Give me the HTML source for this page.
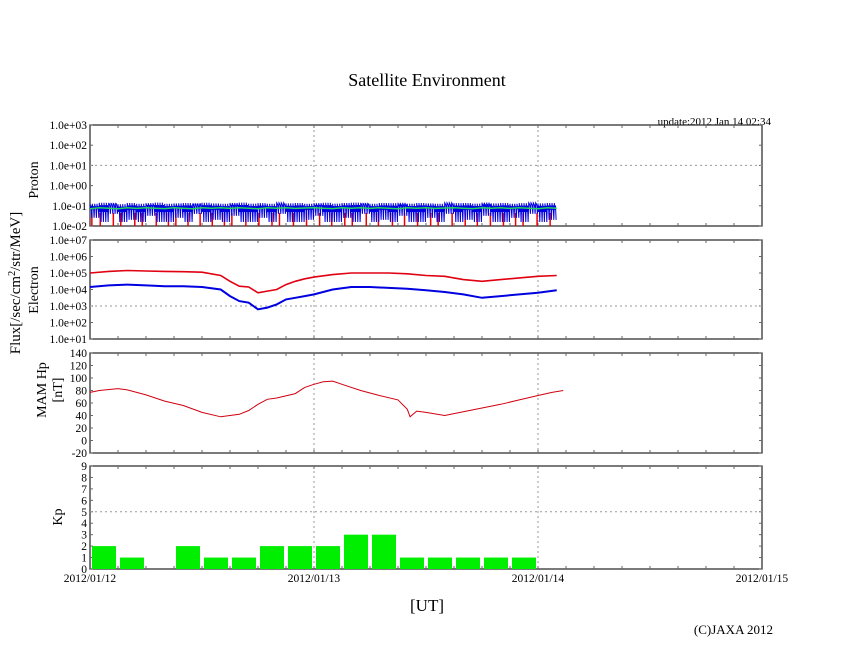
<!DOCTYPE html>
<html><head><meta charset="utf-8"><style>
body{margin:0;background:#fff;}
svg{display:block;font-family:"Liberation Serif",serif;}
</style></head><body>
<svg id="chart" width="846" height="655" viewBox="0 0 846 655" xmlns="http://www.w3.org/2000/svg">
<text x="427" y="86" font-size="18" text-anchor="middle">Satellite Environment</text>
<text x="771" y="125" font-size="11" text-anchor="end">update:2012 Jan 14 02:34</text>
<text x="427" y="611" font-size="17" text-anchor="middle">[UT]</text>
<text x="773" y="634" font-size="13" text-anchor="end">(C)JAXA 2012</text>
<text transform="translate(20,283) rotate(-90)" font-size="15" text-anchor="middle">Flux[/sec/cm<tspan dy="-5" font-size="10">2</tspan><tspan dy="5">/str/MeV]</tspan></text>
<text transform="translate(38,180) rotate(-90)" font-size="14" text-anchor="middle">Proton</text>
<text transform="translate(38,290) rotate(-90)" font-size="14" text-anchor="middle">Electron</text>
<text transform="translate(46,390) rotate(-90)" font-size="14" text-anchor="middle">MAM Hp</text>
<text transform="translate(62,390) rotate(-90)" font-size="14" text-anchor="middle">[nT]</text>
<text transform="translate(62,517) rotate(-90)" font-size="14" text-anchor="middle">Kp</text>
<g id="g"></g>
</svg>
<script>
const xDayLabels=["2012/01/12","2012/01/13","2012/01/14","2012/01/15"];
const protonTicks=["1.0e-02","1.0e-01","1.0e+00","1.0e+01","1.0e+02","1.0e+03"];
const electronTicks=["1.0e+01","1.0e+02","1.0e+03","1.0e+04","1.0e+05","1.0e+06","1.0e+07"];
const hpTicks=[-20,0,20,40,60,80,100,120,140];
const kpTicks=[0,1,2,3,4,5,6,7,8,9];
const protonHi=[-0.9,-0.85,-0.88,-0.92,-0.86,-0.9,-0.87,-0.84,-0.9,-0.88,-0.86,-0.91,-0.85,-0.88,-0.9,-0.86,-0.84,-0.89,-0.87,-0.9,-0.85,-0.88,-0.86,-0.9,-0.87,-0.85,-0.89,-0.86,-0.84,-0.88,-0.9,-0.86,-0.87,-0.85,-0.89,-0.86,-0.88,-0.9,-0.85,-0.87,-0.86,-0.89,-0.84,-0.88,-0.86,-0.9,-0.87,-0.85,-0.88,-0.86,-0.87];
const protonLo=[-1.8,-2,-1.6,-2,-1.9,-2,-1.7,-2,-2,-1.8,-2,-1.6,-2,-1.9,-2,-1.7,-2,-2,-1.8,-2,-1.6,-2,-2,-1.9,-1.7,-2,-2,-1.8,-2,-1.6,-2,-1.9,-2,-1.7,-2,-2,-1.8,-2,-1.6,-2,-1.9,-2,-1.7,-2,-2,-1.8,-2,-1.6,-2,-1.9,-2];
const protonGreen=[-1.15,-1.1,-1.12,-1.15,-1.1,-1.13,-1.1,-1.12,-1.14,-1.1,-1.12,-1.15,-1.1,-1.12,-1.1,-1.13,-1.1,-1.12,-1.15,-1.1,-1.12,-1.1,-1.13,-1.11,-1.1,-1.12,-1.14,-1.1,-1.12,-1.1,-1.13,-1.1,-1.12,-1.15,-1.1,-1.12,-1.1,-1.13,-1.11,-1.1,-1.12,-1.14,-1.1,-1.12,-1.1,-1.13,-1.1,-1.12,-1.15,-1.1,-1.12];
const protonRedSpikes=[0.2,1.1,2.5,3.3,4.8,5.6,7.1,8.4,9.2,10.5,11.8,13.1,14.4,15.2,16.7,18.1,19.5,20.3,21.8,23.2,24.6,25.9,27.3,28.1,29.6,30.9,32.4,33.7,35.1,36.5,37.3,38.8,40.2,41.5,42.9,44.3,45.6,46.4,47.9,49.3];
const eTimes=[0,2,4,6,8,10,12,14,15,16,17,18,19,20,21,22,23,24,26,28,30,32,34,36,38,40,42,44,46,48,50];
const eRed=[5.0,5.1,5.15,5.12,5.1,5.08,5.05,4.85,4.5,4.2,4.15,3.8,3.9,4.0,4.3,4.5,4.65,4.75,4.9,5.0,5.0,5.0,4.95,4.85,4.8,4.6,4.5,4.6,4.7,4.8,4.85];
const eBlue=[4.15,4.25,4.3,4.25,4.2,4.2,4.15,4.0,3.6,3.3,3.2,2.8,2.9,3.1,3.4,3.5,3.6,3.7,4.0,4.15,4.15,4.1,4.05,3.95,3.85,3.7,3.5,3.6,3.7,3.8,3.95];
const hpTimes=[0,1,3,4,6,8,10,12,14,16,17,18,19,20,22,23,24,25,26,27,29,31,33,34,34.3,35,36,38,40,42,44,46,48,49.5,50.7];
const hpVals=[77,80,83,81,73,63,56,45,38,42,48,58,66,68,75,85,90,94,95,90,80,72,65,50,38,47,45,40,46,52,58,65,72,77,80];
const kpVals=[2,1,0,2,1,1,2,2,2,3,3,1,1,1,1,1];

const NS="http://www.w3.org/2000/svg", G=document.getElementById('g');
const X0=90,X1=762,HOURS=72;
const xs=h=>X0+h*(X1-X0)/HOURS;
function mk(t,a,p){const e=document.createElementNS(NS,t);for(const k in a)e.setAttribute(k,a[k]);(p||G).appendChild(e);return e;}
function txt(x,y,s,anchor,sz){const e=mk('text',{x:x,y:y,'font-size':sz||11.5,'text-anchor':anchor||'end'});e.textContent=s;return e;}
const panels=[
 {top:125,bot:226,min:-2,max:3,name:'proton'},
 {top:240,bot:339,min:1,max:7,name:'electron'},
 {top:353,bot:453,min:-20,max:140,name:'hp'},
 {top:466,bot:569,min:0,max:9,name:'kp'}];
function ys(p,v){return p.bot-(v-p.min)/(p.max-p.min)*(p.bot-p.top);}
panels.forEach((p,i)=>{
 const fr=mk('rect',{x:X0,y:p.top,width:X1-X0,height:p.bot-p.top,fill:'none',stroke:'#333','stroke-width':1.3});
 
 
 for(let d=1;d<3;d++){const l=mk('line',{x1:xs(d*24),x2:xs(d*24),y1:p.top,y2:p.bot,stroke:'#999','stroke-dasharray':'2,3'});
  
  }
 for(let h=3;h<72;h+=3){mk('line',{x1:xs(h),x2:xs(h),y1:p.top,y2:p.top+3,stroke:'#666'});mk('line',{x1:xs(h),x2:xs(h),y1:p.bot,y2:p.bot-3,stroke:'#666'});}
});
function yAxis(p,vals,labels,grid){
 vals.forEach((v,k)=>{const y=ys(p,v);
  const t=txt(X0-3,y+4,labels[k]);
  
  
  mk('line',{x1:X0,x2:X0+3,y1:y,y2:y,stroke:'#666'});mk('line',{x1:X1,x2:X1-3,y1:y,y2:y,stroke:'#666'});
  if(grid===v){const g=mk('line',{x1:X0,x2:X1,y1:y,y2:y,stroke:'#999','stroke-dasharray':'2,3'});
   
   }
 });}
yAxis(panels[0],protonTicks.map((s,k)=>-2+k),protonTicks,1);
yAxis(panels[1],electronTicks.map((s,k)=>1+k),electronTicks,3);
yAxis(panels[2],hpTicks,hpTicks.map(String));
yAxis(panels[3],kpTicks,kpTicks.map(String),5);
xDayLabels.forEach((s,d)=>{const t=txt(xs(d*24),582,s,'middle',11.5);
 
 });
function poly(pts,col,w,name){const e=mk('polyline',{points:pts.map(q=>q[0].toFixed(1)+','+q[1].toFixed(1)).join(' '),fill:'none',stroke:col,'stroke-width':w||1});
 
 return e;}
const P=panels[0];
protonRedSpikes.forEach(h=>{const l=mk('line',{x1:xs(h),x2:xs(h),y1:P.bot,y2:ys(P,-1.35),stroke:'#e00','stroke-width':1.5});
 
 });
const bp=[];
for(let i=0;i<protonHi.length-1;i++){for(let s=0;s<16;s++){const h=i+s/16;const v=s%2?protonLo[i]+(s%4===1?0.7:0.2):protonHi[i]-(s%4===2?0.12:0);bp.push([xs(h),ys(P,Math.max(P.min,v))]);}}
poly(bp,'#0000e0',1,'proton-blue-series');
poly(protonGreen.map((v,i)=>[xs(i),ys(P,v)]),'#20d060',1.5,'proton-green-series');
const E=panels[1];
poly(eTimes.map((h,i)=>[xs(h),ys(E,eRed[i])]),'#e00010',1.6,'electron-red-series');
poly(eTimes.map((h,i)=>[xs(h),ys(E,eBlue[i])]),'#0000e0',2,'electron-blue-series');
const H=panels[2];
poly(hpTimes.map((h,i)=>[xs(h),ys(H,hpVals[i])]),'#d00010',1,'hp-series');
const K=panels[3];
kpVals.forEach((v,i)=>{if(v<=0)return;
 const r=mk('rect',{x:xs(i*3)+2,y:ys(K,v),width:xs(3)-X0-4,height:K.bot-ys(K,v),fill:'#00ee00'});
 
 });
</script>
</body></html>
